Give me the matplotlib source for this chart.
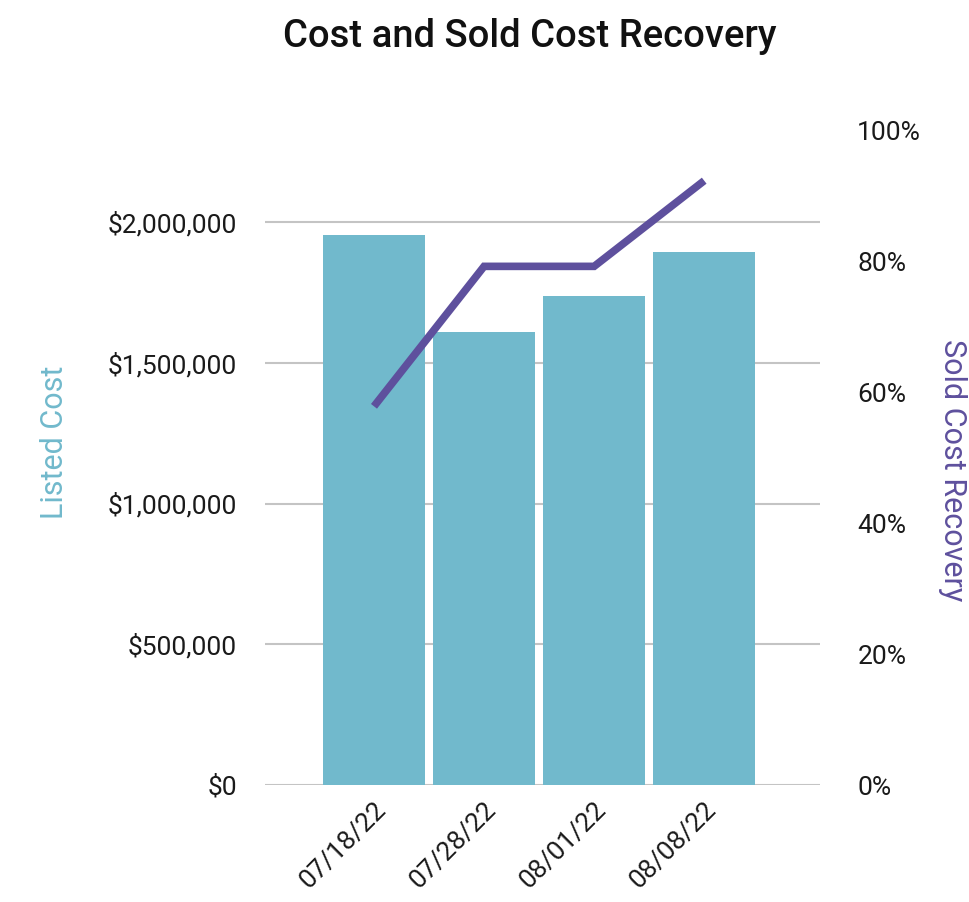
import matplotlib
matplotlib.use("Agg")
import matplotlib.pyplot as plt
from matplotlib.ticker import FuncFormatter, MultipleLocator

plt.rcParams["font.family"] = ["Roboto", "DejaVu Sans"]

# Data
dates = ["07/18/22", "07/28/22", "08/01/22", "08/08/22"]
listed_cost = [1955000, 1612000, 1737000, 1895000]
recovery_pct = [57.9, 79.3, 79.3, 92.4]

BAR_COLOR = "#71b9cc"
LINE_COLOR = "#5e509d"
GRID_COLOR = "#c4c4c4"
TEXT_COLOR = "#1a1a1a"

fig = plt.figure(figsize=(9.69, 9.02), dpi=100)
ax = fig.add_axes([0.2735, 0.1297, 0.5725, 0.7251])

x = range(len(dates))
ax.bar(x, listed_cost, width=0.925, color=BAR_COLOR, zorder=2)
ax.set_xlim(-0.99, 4.05)
ax.set_ylim(0, 2325000)
ax.set_yticks([0, 500000, 1000000, 1500000, 2000000])
ax.yaxis.set_major_formatter(FuncFormatter(lambda v, _: f"${v:,.0f}"))
ax.grid(axis="y", color=GRID_COLOR, linewidth=1.5, zorder=0)
ax.set_axisbelow(True)
for s in ax.spines.values():
    s.set_visible(False)
ax.tick_params(axis="y", length=0, pad=20, labelsize=19, labelcolor=TEXT_COLOR)
ax.tick_params(axis="x", length=0, pad=9, labelsize=19, labelcolor=TEXT_COLOR)
ax.set_xticks(list(x))
ax.set_xticklabels(dates, rotation=45, ha="right", rotation_mode="anchor")

# Recovery percentage on the secondary axis
ax2 = ax.twinx()
ax2.plot(x, recovery_pct, color=LINE_COLOR, linewidth=5.5, solid_capstyle="butt",
         solid_joinstyle="miter", zorder=3)
ax2.set_ylim(0, 100)
ax2.yaxis.set_major_locator(MultipleLocator(20))
ax2.yaxis.set_major_formatter(FuncFormatter(lambda v, _: f"{v:.0f}%"))
for s in ax2.spines.values():
    s.set_visible(False)
ax2.tick_params(axis="y", length=0, pad=27, labelsize=19, labelcolor=TEXT_COLOR)

# Axis titles and chart title
fig.text(55 / 969, 1 - 442 / 902, "Listed Cost", color=BAR_COLOR, fontsize=22,
         rotation=90, ha="center", va="center")
fig.text(952 / 969, 1 - 470 / 902, "Sold Cost Recovery", color=LINE_COLOR,
         fontsize=22, rotation=270, ha="center", va="center")
fig.text(530 / 969, 1 - 47 / 902, "Cost and Sold Cost Recovery", fontsize=27.5,
         fontweight="medium", color="#111111", ha="center", va="baseline")

fig.savefig("out.png", dpi=100, facecolor="white")
